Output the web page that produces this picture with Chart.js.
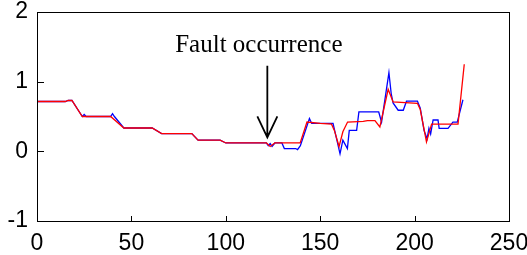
<!DOCTYPE html>
<html>
<head>
<meta charset="utf-8">
<script src="https://cdn.jsdelivr.net/npm/chart.js@4"></script>
<style>
  html, body { margin: 0; padding: 0; background: #fff; }
  #wrap { width: 527px; height: 255px; }
</style>
</head>
<body>
<div id="wrap"><canvas id="chart"></canvas></div>
<script>
// tick values
const xTicks = [0, 50, 100, 150, 200, 250];
const yTicks = [-1, 0, 1, 2];

// blue series
const blueX = [0, 15, 16.5, 18.5, 24, 25, 26, 39, 40, 41, 46, 61, 66, 82, 85.3, 97, 100,
  121.5, 122.5, 123.5, 124.5, 126, 129.7, 131, 137, 138, 139.5, 144.3, 145.5, 156.8, 158.5,
  160.5, 162, 164.4, 165.4, 169.3, 170.5, 181, 182.5, 186.4, 187.6, 188.6, 191.3, 194, 195.7,
  201.5, 203, 205, 206.6, 207.6, 208.5, 209.8, 212.4, 213, 217.7, 220.3, 222.6, 225.6];
const blueY = [0.715, 0.715, 0.73, 0.73, 0.5, 0.53, 0.5, 0.5, 0.54, 0.5, 0.335, 0.335, 0.255, 0.255, 0.16, 0.16, 0.12,
  0.12, 0.08, 0.11, 0.07, 0.12, 0.12, 0.04, 0.04, 0.025, 0.08, 0.47, 0.40, 0.40, 0.2,
  -0.035, 0.16, 0.04, 0.30, 0.30, 0.565, 0.565, 0.42, 1.13, 0.83, 0.695, 0.59, 0.59, 0.72,
  0.72, 0.62, 0.3, 0.18, 0.33, 0.25, 0.45, 0.45, 0.33, 0.33, 0.42, 0.42, 0.74];

// red series
const redX = [0, 15, 16.5, 18.5, 24, 39, 46, 61, 66, 82, 85.3, 97, 100, 121.5, 123.5, 126,
  139.4, 143, 150, 156, 157.5, 160, 162, 164.5, 172.8, 175, 179, 181.6, 186, 188.6,
  201.5, 203, 206.3, 209, 223, 226.3];
const redY = [0.715, 0.715, 0.73, 0.73, 0.5, 0.5, 0.335, 0.335, 0.255, 0.255, 0.16, 0.16, 0.12, 0.12, 0.07, 0.12,
  0.12, 0.42, 0.40, 0.39, 0.3, 0.07, 0.28, 0.42, 0.43, 0.44, 0.44, 0.35, 0.89, 0.71,
  0.69, 0.6, 0.135, 0.39, 0.39, 1.25];

// annotation
const noteText = "Fault occurrence";
const noteX = 117.5;    // text centre (data x)
const noteY = 1.424;    // text baseline (data y)
const arrowX = 122;
const arrowTop = 1.23;
const arrowTip = 0.2;

const toPts = (xs, ys) => xs.map((x, i) => ({ x: x, y: ys[i] }));

// frame, inward ticks and the arrow note
const framePlugin = {
  id: "frame",
  afterDraw(chart) {
    const { ctx, chartArea: a, scales } = chart;
    ctx.save();
    ctx.strokeStyle = "#000";
    ctx.lineWidth = 1;
    ctx.strokeRect(a.left + 0.5, a.top + 0.5, a.right - a.left, a.bottom - a.top);

    ctx.beginPath();
    yTicks.forEach(v => {
      const y = Math.round(scales.y.getPixelForValue(v)) + 0.5;
      ctx.moveTo(a.left, y);
      ctx.lineTo(a.left + 7, y);
    });
    xTicks.forEach(v => {
      const x = Math.round(scales.x.getPixelForValue(v)) + 0.5;
      ctx.moveTo(x, a.bottom);
      ctx.lineTo(x, a.bottom - 5);
    });
    ctx.stroke();

    // text
    ctx.fillStyle = "#000";
    ctx.font = "25px 'Liberation Serif', 'Times New Roman', serif";
    ctx.textAlign = "center";
    ctx.textBaseline = "alphabetic";
    ctx.fillText(noteText, scales.x.getPixelForValue(noteX), scales.y.getPixelForValue(noteY));

    // arrow
    const ax = scales.x.getPixelForValue(arrowX);
    const y0 = scales.y.getPixelForValue(arrowTop);
    const y1 = scales.y.getPixelForValue(arrowTip);
    ctx.lineWidth = 1.8;
    ctx.beginPath();
    ctx.moveTo(ax, y0);
    ctx.lineTo(ax, y1);
    ctx.moveTo(ax - 10, y1 - 21);
    ctx.lineTo(ax, y1);
    ctx.lineTo(ax + 10, y1 - 21);
    ctx.stroke();
    ctx.restore();
  }
};

const tickFont = { family: "'Liberation Sans', Arial, sans-serif", size: 23 };

new Chart(document.getElementById("chart"), {
  type: "line",
  data: {
    datasets: [
      {
        data: toPts(redX, redY),
        borderColor: "#ff0000",
        borderWidth: 1.3,
        pointRadius: 0,
        tension: 0
      },
      {
        data: toPts(blueX, blueY),
        borderColor: "#0000ff",
        borderWidth: 1.3,
        pointRadius: 0,
        tension: 0
      }
    ]
  },
  options: {
    responsive: true,
    maintainAspectRatio: false,
    animation: false,
    layout: { padding: { top: 12, right: 18, left: 0, bottom: 0 } },
    plugins: {
      legend: { display: false },
      tooltip: { enabled: false }
    },
    scales: {
      x: {
        type: "linear",
        min: 0,
        max: 250,
        afterFit(s) {
          s.height = 34;
          s.paddingLeft = 0; s.paddingRight = 0;
        },
        afterBuildTicks(s) { s.ticks = xTicks.map(v => ({ value: v })); },
        grid: { display: false, drawTicks: false },
        border: { display: false },
        ticks: { color: "#000", font: tickFont, padding: 9, maxRotation: 0 }
      },
      y: {
        min: -1,
        max: 2,
        afterFit(s) {
          s.width = 37;
          s.paddingTop = 0; s.paddingBottom = 0;
        },
        afterBuildTicks(s) { s.ticks = yTicks.map(v => ({ value: v })); },
        grid: { display: false, drawTicks: false },
        border: { display: false },
        ticks: { color: "#000", font: tickFont, padding: 9 }
      }
    }
  },
  plugins: [framePlugin]
});
</script>
</body>
</html>
